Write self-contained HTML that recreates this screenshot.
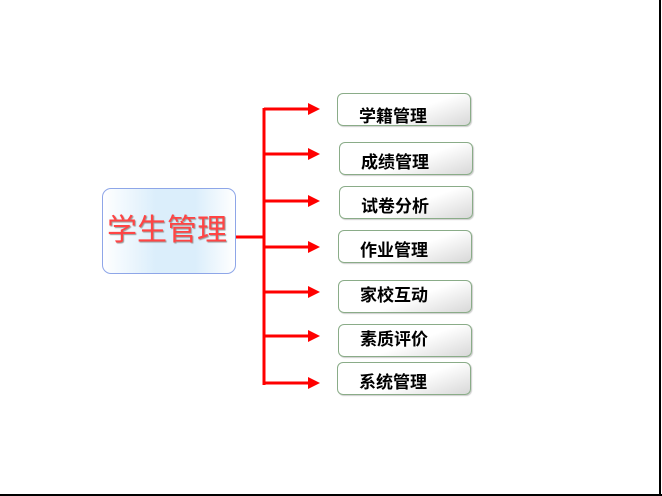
<!DOCTYPE html>
<html><head><meta charset="utf-8"><style>
body{margin:0;width:662px;height:496px;background:#fff;position:relative;overflow:hidden;font-family:"Liberation Sans","Noto Sans CJK SC",sans-serif}
.b{position:absolute;width:134px;height:33px;border:1px solid #8aac88;border-radius:6px;background:linear-gradient(160deg,#fff 55%,#d8d8d8);box-sizing:border-box;font-size:17px;font-weight:bold;color:#000;line-height:33px;padding-left:21px;box-shadow:1px 1px 1px #ccc}
.c{position:absolute;left:102px;top:188px;width:134px;height:86px;border:1px solid #8ea6e8;border-radius:9px;box-sizing:border-box;background:linear-gradient(90deg,#fff,#dbeefb 40%,#dbeefb 70%,#fff);color:#f44;font-size:30px;line-height:84px;padding-left:4px;text-shadow:1px 1px 1px #999}
</style></head><body>
<div style="position:absolute;left:659px;top:0;width:2px;height:496px;background:#000"></div>
<div style="position:absolute;left:0;top:494px;width:662px;height:2px;background:#000"></div>
<div class="c">学生管理</div>
<svg width="662" height="496" style="position:absolute;left:0;top:0">
<g stroke="#f00" stroke-width="3" fill="none">
<line x1="236" y1="237" x2="264" y2="237"/>
<line x1="264" y1="108" x2="264" y2="385"/>
<line x1="264" y1="109" x2="309" y2="109"/>
<line x1="264" y1="154" x2="309" y2="154"/>
<line x1="264" y1="201" x2="309" y2="201"/>
<line x1="264" y1="247" x2="309" y2="247"/>
<line x1="264" y1="292" x2="309" y2="292"/>
<line x1="264" y1="336" x2="309" y2="336"/>
<line x1="264" y1="383" x2="309" y2="383"/>
</g>
<g fill="#f00">
<polygon points="308,103 320,109 308,115"/>
<polygon points="308,148 320,154 308,160"/>
<polygon points="308,195 320,201 308,207"/>
<polygon points="308,241 320,247 308,253"/>
<polygon points="308,286 320,292 308,298"/>
<polygon points="308,330 320,336 308,342"/>
<polygon points="308,377 320,383 308,389"/>
</g>
</svg>
<div class="b" style="left:337px;top:93px;line-height:46px">学籍管理</div>
<div class="b" style="left:339px;top:142px;line-height:40px">成绩管理</div>
<div class="b" style="left:339px;top:186px;line-height:40px">试卷分析</div>
<div class="b" style="left:338px;top:230px;line-height:40px">作业管理</div>
<div class="b" style="left:338px;top:280px;line-height:30px">家校互动</div>
<div class="b" style="left:338px;top:324px;line-height:30px">素质评价</div>
<div class="b" style="left:337px;top:362px;line-height:40px">系统管理</div>
</body></html>
